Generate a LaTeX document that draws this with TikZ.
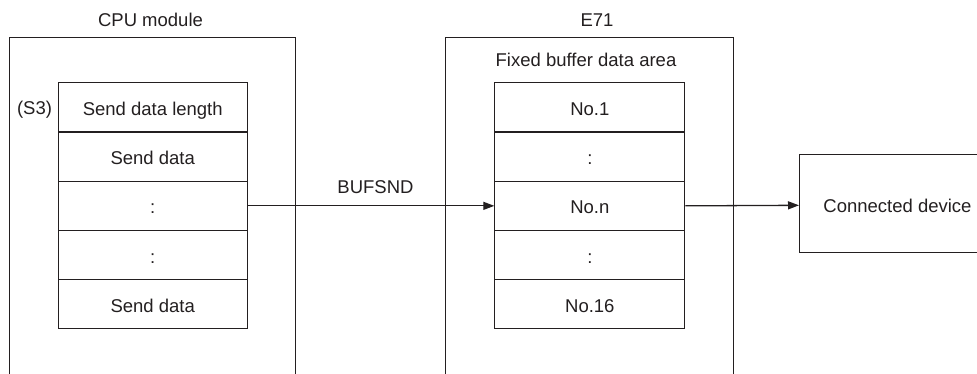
\documentclass[tikz,border=0pt]{standalone}
\usepackage{fontspec}
\setmainfont{Liberation Sans}
\usetikzlibrary{arrows.meta}
\definecolor{ink}{HTML}{231F20}
\begin{document}
\begin{tikzpicture}[x=1pt,y=-1pt,
  txt/.style={font=\fontsize{18.5}{22}\selectfont,text=ink,inner sep=0pt,anchor=base},
  frame/.style={draw=ink,line width=0.9pt},
  cell/.style={draw=ink,line width=1.1pt,minimum width=189pt,minimum height=49.2pt,inner sep=0pt,text height=16pt,text depth=0pt,anchor=north west,font=\fontsize{18.5}{22}\selectfont,text=ink},
  link/.style={draw=ink,line width=1.3pt,-{Triangle[length=11pt,width=8pt]}}]
\useasboundingbox (0,0) rectangle (977,374);
% CPU module frame
\node[txt] (cpulbl) at (150.5,26.5) {CPU module};
\draw[frame] (9,374) -- (9,37) -- (295,37) -- (295,374);
\node[cell] (c1) at (57.7,82.3) {Send data length};
\node[cell] (c2) at (57.7,131.5) {Send data};
\node[cell] (c3) at (57.7,180.7) {:};
\node[cell] (c4) at (57.7,229.9) {:};
\node[cell] (c5) at (57.7,279.1) {Send data};
\node[txt] (s3) at (34.5,115) {(S3)};
% E71 frame
\node[txt] (e71lbl) at (597,26.5) {E71};
\draw[frame] (445.7,374) -- (445.7,37) -- (733.3,37) -- (733.3,374);
\node[txt] (fbd) at (586,66.7) {Fixed buffer data area};
\node[cell,minimum width=190pt] (b1) at (494.3,82.3) {No.1};
\node[cell,minimum width=190pt] (b2) at (494.3,131.5) {:};
\node[cell,minimum width=190pt] (b3) at (494.3,180.7) {No.n};
\node[cell,minimum width=190pt] (b4) at (494.3,229.9) {:};
\node[cell,minimum width=190pt] (b5) at (494.3,279.1) {No.16};
% connected device
\draw[frame] (977,154) -- (799,154) -- (799,252.3) -- (977,252.3);
\node[txt] (dev) at (897.5,213) {Connected device};
\coordinate (devin) at (799,205.3);
% connectors
\draw[link] (c3.east) -- (b3.west);
\node[txt] (bufsnd) at (375.5,194) {BUFSND};
\draw[link] (b3.east) -- (devin);
\end{tikzpicture}
\end{document}
